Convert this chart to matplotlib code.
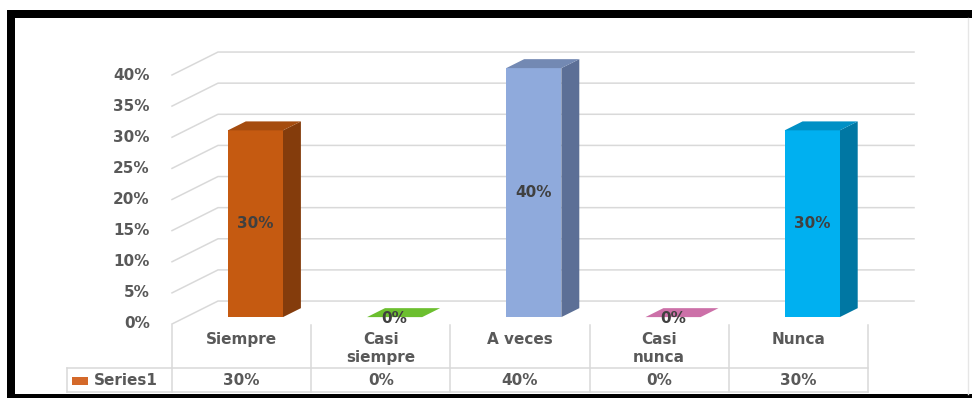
import matplotlib
matplotlib.use("Agg")
import matplotlib.pyplot as plt
from matplotlib.patches import Polygon, Rectangle

# data
categories = ["Siempre", "Casi\nsiempre", "A veces", "Casi\nnunca", "Nunca"]
values = [30, 0, 40, 0, 30]
series_name = "Series1"
yticks = [0, 5, 10, 15, 20, 25, 30, 35, 40]

front_colors = ["#C55A11", "#6CBF2F", "#8FAADC", "#CC70A8", "#00B0F0"]
top_colors = ["#A54C0F", "#5EAA28", "#7389B3", "#B8609A", "#0090C5"]
side_colors = ["#843C0C", "#4E8E20", "#5C6F96", "#9E4F82", "#0077A3"]

TXT = "#595959"
GRID = "#D9D9D9"
FONT = dict(family="DejaVu Sans", fontweight="bold", fontsize=11)

W, H = 972, 398
fig = plt.figure(figsize=(W / 100, H / 100), dpi=100)
fig.patch.set_facecolor("white")

# front plane of the 3D plot: category units on x, percent on y
ax = fig.add_axes([172 / W, (H - 324) / H, 696 / W, 249 / H])
ax.set_xlim(-0.5, 4.5)
ax.set_ylim(0, 40)
ax.axis("off")

DX, DY = 0.3305, 3.69       # full floor depth in data units
Z0, Z1 = 0.30, 0.69         # bar depth range (fraction of floor)
BW = 0.396                  # bar width
n = len(categories)

# walls: side + back gridlines
for v in yticks:
    ax.plot([-0.5, -0.5 + DX, n - 0.5 + DX], [v, v + DY, v + DY],
            color=GRID, lw=1.1, clip_on=False, zorder=1)
    ax.text(-0.5 - 0.16, v, f"{v}%", ha="right", va="center", color=TXT,
            clip_on=False, **FONT)

# bars
for i, v in enumerate(values):
    xl, xr = i - BW / 2, i + BW / 2
    front = [(xl + Z0 * DX, Z0 * DY), (xr + Z0 * DX, Z0 * DY),
             (xr + Z0 * DX, Z0 * DY + v), (xl + Z0 * DX, Z0 * DY + v)]
    side = [(xr + Z0 * DX, Z0 * DY), (xr + Z1 * DX, Z1 * DY),
            (xr + Z1 * DX, Z1 * DY + v), (xr + Z0 * DX, Z0 * DY + v)]
    top = [(xl + Z0 * DX, Z0 * DY + v), (xr + Z0 * DX, Z0 * DY + v),
           (xr + Z1 * DX, Z1 * DY + v), (xl + Z1 * DX, Z1 * DY + v)]
    if v > 0:
        ax.add_patch(Polygon(side, closed=True, fc=side_colors[i], ec="none", zorder=3, clip_on=False))
        ax.add_patch(Polygon(front, closed=True, fc=front_colors[i], ec="none", zorder=4, clip_on=False))
        ax.add_patch(Polygon(top, closed=True, fc=top_colors[i], ec="none", zorder=4, clip_on=False))
        ly = Z0 * DY + v / 2
    else:
        ax.add_patch(Polygon(top, closed=True, fc=front_colors[i], ec="none", zorder=4, clip_on=False))
        ly = Z0 * DY - 0.15
    ax.text(i + Z0 * DX, ly, f"{v}%", ha="center", va="center", color="#404040",
            zorder=6, clip_on=False, **FONT)

# data table below the floor
R_TOP, R_MID, R_BOT = -0.15, -7.05, -10.9
LEG_L = -1.254
kw = dict(color=GRID, lw=1.1, clip_on=False, zorder=2)
for b in [k - 0.5 for k in range(n + 1)]:
    ax.plot([b, b], [R_TOP, R_BOT], **kw)
ax.plot([LEG_L, LEG_L], [R_MID, R_BOT], **kw)
ax.plot([LEG_L, n - 0.5], [R_MID, R_MID], **kw)
ax.plot([LEG_L, n - 0.5], [R_BOT, R_BOT], **kw)

for i, (c, v) in enumerate(zip(categories, values)):
    ax.text(i, -1.3, c, ha="center", va="top", color=TXT, linespacing=1.25,
            clip_on=False, **FONT)
    ax.text(i, -9.1, f"{v}%", ha="center", va="center", color=TXT,
            clip_on=False, **FONT)

ax.add_patch(Rectangle((-1.218, -9.8), 0.115, 1.3, fc="#D4692A", ec="none", clip_on=False))
ax.text(-1.06, -9.1, series_name, ha="left", va="center", color=TXT, clip_on=False, **FONT)

# black frame around the picture
for x0, y0, w, h in [(7, 10, W - 7, 8), (7, 10, 8, H - 10), (7, H - 4, W - 7, 4)]:
    fig.add_artist(Rectangle((x0 / W, (H - y0 - h) / H), w / W, h / H,
                             transform=fig.transFigure, fc="black", ec="none"))
fig.add_artist(plt.Line2D([968 / W, 968 / W], [4 / H, (H - 18) / H],
                          transform=fig.transFigure, color="#E6E6E6", lw=1))

fig.savefig("out.png", dpi=100)
